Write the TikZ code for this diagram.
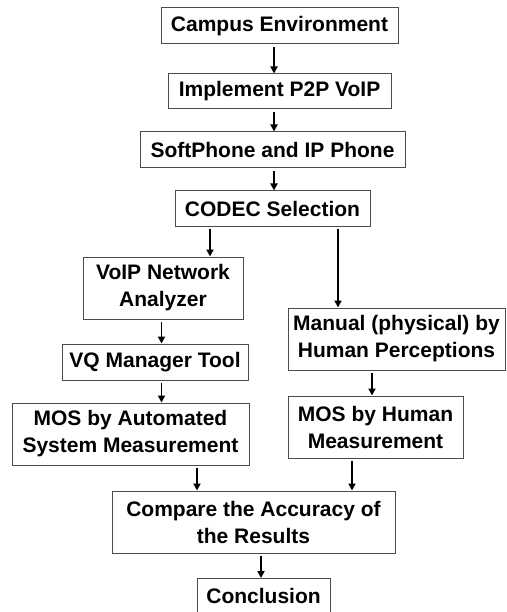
\documentclass[tikz,border=0pt]{standalone}
\usepackage{fontspec}
\setmainfont{Liberation Sans}
\usetikzlibrary{arrows.meta}
\def\gap{2.5pt}
\tikzset{box/.style={draw=black!70, line width=1pt, inner sep=0pt, align=center, font=\bfseries\fontsize{21}{27}\selectfont}}
\tikzset{flow/.style={line width=1.8pt, -{Triangle[length=7pt,width=7pt]}, shorten <=\gap}}

\begin{document}
\begin{tikzpicture}[x=1pt,y=-1pt]
\useasboundingbox (0,0) rectangle (506,612);
\node[box, minimum width=237pt, minimum height=36pt] (camp) at (279.5,26) {Campus Environment};
\node[box, minimum width=223pt, minimum height=35pt] (impl) at (279.5,91.5) {Implement P2P VoIP};
\node[box, minimum width=265pt, minimum height=36pt] (soft) at (272.5,150) {SoftPhone and IP Phone};
\node[box, minimum width=195pt, minimum height=35pt] (codec) at (272.5,208.5) {CODEC Selection};
\node[box, minimum width=160pt, minimum height=62pt] (anal) at (163,288) {VoIP Network\\Analyzer};
\node[box, minimum width=217pt, minimum height=62pt] (manual) at (396.5,339) {Manual (physical) by\\Human Perceptions};
\node[box, minimum width=186pt, minimum height=36pt] (vq) at (155,362) {VQ Manager Tool};
\node[box, minimum width=237pt, minimum height=62pt] (mosa) at (130.5,434) {MOS by Automated\\System Measurement};
\node[box, minimum width=175pt, minimum height=62pt] (mosh) at (375.5,427) {MOS by Human\\Measurement};
\node[box, minimum width=283pt, minimum height=62pt] (comp) at (253.5,522) {Compare the Accuracy of\\the Results};
\node[box, minimum width=133pt, minimum height=35pt] (concl) at (263.5,596) {Conclusion};
\draw[flow] ([xshift=-5.5pt]camp.south) -- ([xshift=-5.5pt]camp.south |- impl.north);
\draw[flow] ([xshift=-5.5pt]impl.south) -- ([xshift=-5.5pt]impl.south |- soft.north);
\draw[flow] ([xshift=1.5pt]soft.south) -- ([xshift=1.5pt]soft.south |- codec.north);
\draw[flow] ([xshift=-62.5pt]codec.south) -- ([xshift=-62.5pt]codec.south |- anal.north);
\draw[flow] ([xshift=65.5pt]codec.south) -- ([xshift=65.5pt]codec.south |- manual.north);
\draw[flow] ([xshift=-1.5pt]anal.south) -- ([xshift=-1.5pt]anal.south |- vq.north);
\draw[flow] ([xshift=6.5pt]vq.south) -- ([xshift=6.5pt]vq.south |- mosa.north);
\draw[flow] ([xshift=-24.5pt]manual.south) -- ([xshift=-24.5pt]manual.south |- mosh.north);
\draw[flow] ([xshift=66.5pt]mosa.south) -- ([xshift=66.5pt]mosa.south |- comp.north);
\draw[flow] ([xshift=-23.5pt]mosh.south) -- ([xshift=-23.5pt]mosh.south |- comp.north);
\draw[flow] ([xshift=7.5pt]comp.south) -- ([xshift=7.5pt]comp.south |- concl.north);
\end{tikzpicture}
\end{document}
